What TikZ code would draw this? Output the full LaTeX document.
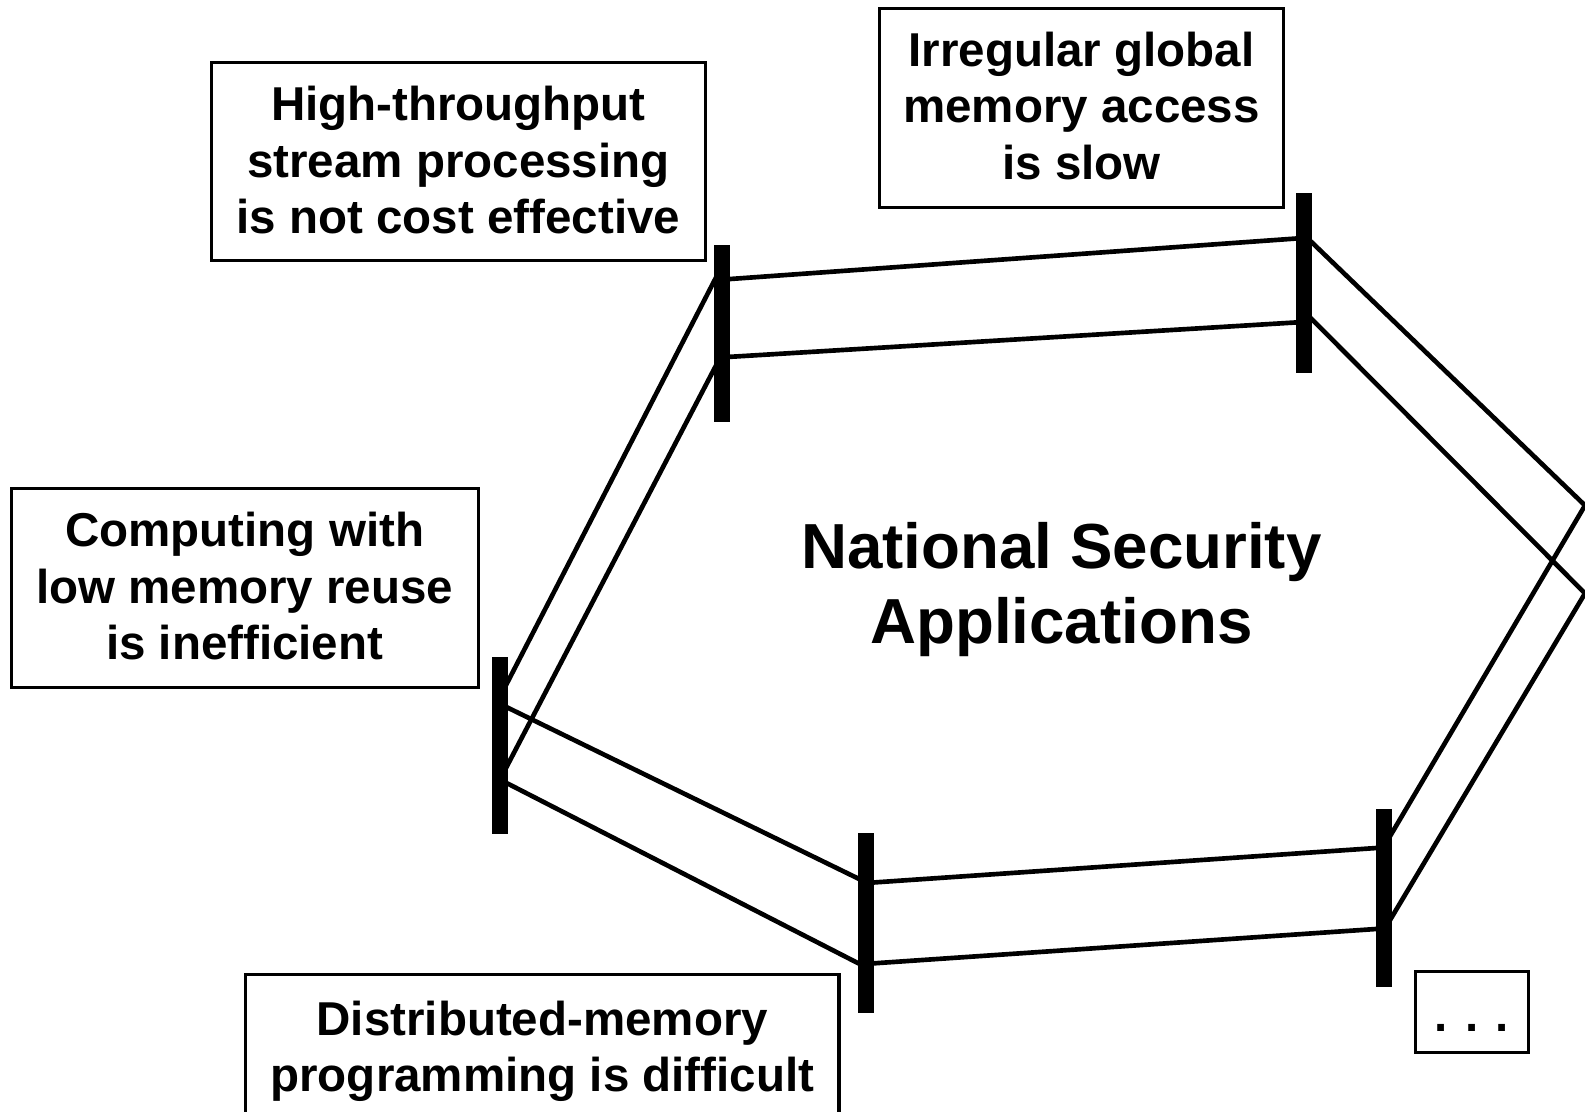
\documentclass[tikz,border=0pt]{standalone}
\usepackage{fontspec}
\setmainfont{Liberation Sans}
\newcommand\topstrut[1]{\rule{0pt}{#1}}
\begin{document}
\begin{tikzpicture}[x=1pt,y=-1pt,
  box/.style={draw, line width=3pt, align=center, inner sep=0pt,
    font=\fontsize{47}{56}\selectfont\bfseries},
  title/.style={align=center, inner sep=0pt,
    font=\fontsize{63}{74}\selectfont\bfseries},
  ring/.style={line width=4.6pt, line join=miter},
  bar/.style={fill=black, draw=none, inner sep=0pt, minimum width=15.5pt}]
\useasboundingbox (0,0) rectangle (1568,1100);
\clip (0,0) rectangle (1568,1100);
\fill[white] (0,0) rectangle (1568,1100);

% line end points (hidden under the bars)
\coordinate (tlU1) at (714,276.6);  \coordinate (trU1) at (1290,235.4);
\coordinate (tlL1) at (714,353.5);  \coordinate (trL1) at (1290,318.5);
\coordinate (trU2) at (1290,232.3); \coordinate (RU) at (1568,500);
\coordinate (trL2) at (1290,308);   \coordinate (RL) at (1568,587);
\coordinate (brU2) at (1369,837.6);
\coordinate (brL2) at (1369,920.4);
\coordinate (bmU1) at (857,873.5);  \coordinate (brU1) at (1369,838.4);
\coordinate (bmL1) at (857,953.5);  \coordinate (brL1) at (1369,918.5);
\coordinate (lfU1) at (494.5,696.3); \coordinate (bmU2) at (857,873);
\coordinate (lfL1) at (494.5,771.2); \coordinate (bmL2) at (857,957);
\coordinate (lfU2) at (494.5,689.6); \coordinate (tlU2) at (714,263.5);
\coordinate (lfL2) at (494.5,771.4); \coordinate (tlL2) at (714,350.7);

% the two rings
\draw[ring] (tlU1) -- (trU1);
\draw[ring] (tlL1) -- (trL1);
\draw[ring] (trU2) -- (RU) -- (brU2);
\draw[ring] (trL2) -- (RL) -- (brL2);
\draw[ring] (bmU1) -- (brU1);
\draw[ring] (bmL1) -- (brL1);
\draw[ring] (lfU1) -- (bmU2);
\draw[ring] (lfL1) -- (bmL2);
\draw[ring] (lfU2) -- (tlU2);
\draw[ring] (lfL2) -- (tlL2);

% bars
\node[bar, minimum height=175pt] (barTL) at (714,329.5) {};
\node[bar, minimum height=178pt] (barTR) at (1290,280) {};
\node[bar, minimum height=175pt] (barL)  at (494.5,737.5) {};
\node[bar, minimum height=178pt] (barB)  at (857,913) {};
\node[bar, minimum height=176pt] (barBR) at (1369,888) {};

% boxes
\node[box, minimum width=489pt, minimum height=196pt] (stream) at (453.5,160)
  {\topstrut{47pt}High-throughput\\stream processing\\is not cost effective\strut};
\node[box, minimum width=400pt, minimum height=197pt] (irreg) at (1070,106.5)
  {\topstrut{47pt}Irregular global\\memory access\\is slow\strut};
\node[box, minimum width=462pt, minimum height=197pt] (reuse) at (242,581.5)
  {\topstrut{47pt}Computing with\\low memory reuse\\is inefficient\strut};
\node[box, minimum width=587pt, minimum height=146pt] (dist) at (536.5,1037)
  {\topstrut{47pt}Distributed-memory\\programming is difficult\strut};
\node[box, minimum width=112pt, minimum height=80pt] (more) at (1456,1001)
  {\topstrut{55pt}. . .\strut};

% centre title
\node[title] (nsa) at (1050,581) {\topstrut{59pt}National Security\\Applications\strut};
\end{tikzpicture}
\end{document}
